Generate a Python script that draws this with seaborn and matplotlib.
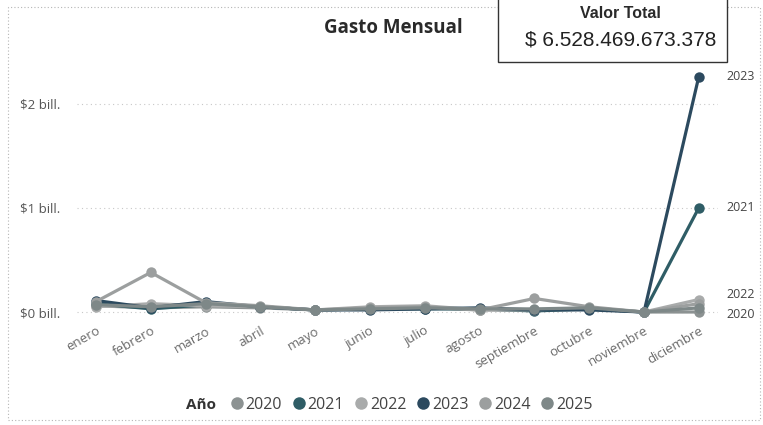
import pandas as pd
import matplotlib.pyplot as plt
import seaborn as sns
from matplotlib.patches import Rectangle

# Monthly spend per year, in "bill." (billones = 10^12 pesos)
meses = ["enero", "febrero", "marzo", "abril", "mayo", "junio", "julio",
         "agosto", "septiembre", "octubre", "noviembre", "diciembre"]
anios = ["2020", "2021", "2022", "2023", "2024", "2025"]
gasto_2020 = [0.06, 0.04, 0.05, 0.04, 0.02, 0.03, 0.04, 0.02, 0.02, 0.03, 0.00, 0.00]
gasto_2021 = [0.08, 0.03, 0.07, 0.05, 0.02, 0.03, 0.03, 0.03, 0.01, 0.03, 0.00, 1.00]
gasto_2022 = [0.05, 0.08, 0.06, 0.05, 0.02, 0.05, 0.06, 0.02, 0.02, 0.04, 0.00, 0.12]
gasto_2023 = [0.11, 0.04, 0.10, 0.05, 0.02, 0.02, 0.03, 0.04, 0.02, 0.02, 0.00, 2.26]
gasto_2024 = [0.10, 0.38, 0.09, 0.06, 0.02, 0.04, 0.05, 0.02, 0.13, 0.05, 0.00, 0.08]
gasto_2025 = [0.07, 0.05, 0.08, 0.05, 0.02, 0.03, 0.04, 0.03, 0.03, 0.04, 0.00, 0.04]
y_ticks = [0, 1, 2]
y_tick_labels = ["$0 bill.", "$1 bill.", "$2 bill."]
etiquetas_fin = ["2023", "2021", "2022", "2020"]
valor_total = "$ 6.528.469.673.378"

series = [gasto_2020, gasto_2021, gasto_2022, gasto_2023, gasto_2024, gasto_2025]
df = pd.DataFrame({
    "mes": meses * len(anios),
    "valor": [v for s in series for v in s],
    "anio": [a for a in anios for _ in meses],
})

colores = ["#8c9292", "#2f5d66", "#a9abab", "#2c4a5f", "#9c9f9f", "#7e8888"]

sns.set_theme(style="white")
plt.rcParams["font.family"] = ["Open Sans", "DejaVu Sans"]

fig = plt.figure(figsize=(7.63, 4.25), dpi=100)
ax = fig.add_axes([0.1007, 0.247, 0.8403, 0.612])

sns.lineplot(data=df, x="mes", y="valor", hue="anio", palette=colores,
             marker="o", markersize=7.5, markeredgewidth=0, linewidth=2.3,
             sort=False, legend=False, ax=ax)

ax.set_xlim(-0.35, 11.35)
ax.set_ylim(-0.077, 2.42)
ax.set_yticks(y_ticks)
ax.set_yticklabels(y_tick_labels, fontsize=9.5, color="#555555")
ax.tick_params(axis="y", length=0, pad=12)
ax.tick_params(axis="x", length=0, pad=3)
ax.set_xticks(range(len(meses)))
ax.set_xticklabels(meses, rotation=30, ha="right", rotation_mode="anchor",
                   fontsize=9.5, color="#6a6a6a")
ax.yaxis.grid(True, linestyle=(0, (1, 3)), color="#c8c8c8", linewidth=0.8)
ax.set_xlabel("")
ax.set_ylabel("")
for s in ax.spines.values():
    s.set_visible(False)

# end-of-line labels
dic = {"2020": gasto_2020[-1], "2021": gasto_2021[-1],
       "2022": gasto_2022[-1], "2023": gasto_2023[-1]}
ajuste = {"2020": -0.02, "2021": 0.0, "2022": 0.05, "2023": 0.0}
for a in etiquetas_fin:
    ax.text(11.5, dic[a] + ajuste[a], a, fontsize=9, color="#444444",
            va="center", ha="left", clip_on=False)

# title
fig.text(0.515, 0.935, "Gasto Mensual", ha="center", va="center",
         fontsize=13.5, fontweight="bold", color="#2a2a2a")

# dotted outer frame
fig.add_artist(Rectangle((0.011, 0.012), 0.985, 0.972, transform=fig.transFigure,
                         fill=False, edgecolor="#b5b5b5", linewidth=0.8,
                         linestyle=(0, (1, 2))))

# card with total value
fig.add_artist(Rectangle((0.653, 0.855), 0.300, 0.16, transform=fig.transFigure,
                         facecolor="white", edgecolor="#333333", linewidth=1.0))
fig.text(0.813, 0.968, "Valor Total", ha="center", va="center",
         fontsize=11.5, fontweight="bold", color="#2a2a2a",
         family=["Liberation Sans", "DejaVu Sans"])
fig.text(0.813, 0.905, valor_total, ha="center", va="center",
         fontsize=15, color="#222222", family=["Liberation Sans", "DejaVu Sans"])

# legend
fig.text(0.263, 0.047, "Año", ha="center", va="center",
         fontsize=11, fontweight="bold", color="#333333")
handles = [plt.Line2D([], [], marker="o", linestyle="", markersize=9,
                      markerfacecolor=c, markeredgewidth=0) for c in colores]
fig.legend(handles, anios, loc="center left", bbox_to_anchor=(0.3, 0.047), ncol=6,
           frameon=False, fontsize=11.5, handletextpad=0.05, columnspacing=0.55,
           handlelength=1.0, labelcolor="#444444", borderaxespad=0, borderpad=0)

fig.savefig("out.png", dpi=100)
